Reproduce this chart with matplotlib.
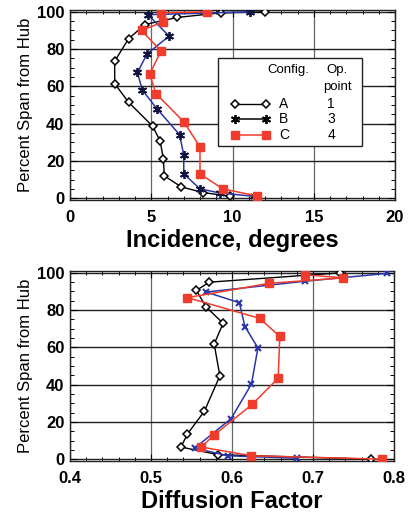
import matplotlib
matplotlib.use("Agg")
import matplotlib.pyplot as plt
from matplotlib.lines import Line2D
from matplotlib.patches import Rectangle
from matplotlib.ticker import MultipleLocator, FuncFormatter

plt.rcParams['font.family'] = ['Liberation Sans', 'DejaVu Sans']

# Incidence (degrees) vs percent span, three configurations
inc_a_x = [12.0, 9.3, 6.6, 4.6, 3.6, 2.75, 2.75, 3.6, 5.1, 5.55, 5.75, 5.8, 6.85, 8.2, 9.85]
inc_a_y = [100, 99.5, 97, 93.2, 85.5, 73.5, 61.5, 51.5, 38.5, 30.5, 21, 12, 6, 3, 1]
inc_b_x = [11.1, 4.8, 6.1, 4.75, 4.15, 4.45, 5.35, 6.75, 7.0, 7.0, 8.0, 9.2, 11.3]
inc_b_y = [100, 98.5, 87, 77.5, 67.5, 58, 48, 34, 23, 13, 5, 2.8, 1]
inc_c_x = [8.4, 5.6, 5.7, 4.4, 5.6, 4.9, 5.3, 7.0, 8.0, 8.0, 9.4, 11.5]
inc_c_y = [100, 99.5, 94.5, 90, 79, 66.5, 56, 41, 27.5, 13, 5, 1.2]

# Diffusion factor vs percent span
df_a_x = [0.733, 0.572, 0.556, 0.568, 0.589, 0.578, 0.585, 0.566, 0.545, 0.537, 0.583, 0.772]
df_a_y = [100, 95, 90.6, 81.7, 72.9, 61.8, 44.7, 25.8, 13.5, 6.5, 2.4, 0]
df_b_x = [0.791, 0.690, 0.568, 0.609, 0.616, 0.632, 0.624, 0.599, 0.554, 0.595, 0.680]
df_b_y = [99.7, 95.5, 89.7, 84.0, 71.2, 59.7, 40.3, 21.8, 5.9, 1.8, 0.5]
df_c_x = [0.690, 0.737, 0.646, 0.545, 0.634, 0.659, 0.657, 0.625, 0.578, 0.562, 0.624, 0.785]
df_c_y = [99, 97.3, 94.4, 86.7, 75.6, 65.9, 43.5, 29.4, 13, 6.5, 1.8, 0]

configs = ['A', 'B', 'C']
op_points = ['1', '3', '4']

RED = '#f03c2c'
BLUE = '#2a36a8'
NAVY = '#101440'

style_a = dict(color='black', lw=1.0, marker='D', ms=4.5, mfc='white', mec='black', mew=1.1)
style_b = dict(color=BLUE, lw=1.1, marker=(6, 2, 0), ms=6.5, mec=NAVY, mew=1.3)
style_c = dict(color=RED, lw=1.1, marker='s', ms=5.5, mfc=RED, mec=RED)

W, H = 412, 514
fig = plt.figure(figsize=(W / 100, H / 100), dpi=100)


def axes_px(left, top, right, bottom):
    return fig.add_axes([left / W, 1 - bottom / H, (right - left) / W, (bottom - top) / H])


def style_axes(ax, xmin, xmax, xmajor, xminor):
    ax.set_xlim(xmin, xmax)
    ax.set_ylim(-1, 101)
    ax.xaxis.set_major_locator(MultipleLocator(xmajor))
    ax.xaxis.set_minor_locator(MultipleLocator(xminor))
    ax.yaxis.set_major_locator(MultipleLocator(20))
    ax.yaxis.set_minor_locator(MultipleLocator(5))
    ax.tick_params(which='both', direction='in', top=True, right=True)
    ax.tick_params(which='major', length=5, width=0.8, labelsize=12)
    ax.tick_params(axis='x', which='major', pad=7)
    ax.tick_params(axis='y', which='major', pad=4)
    ax.tick_params(which='minor', length=3, width=0.7)
    ax.grid(True, axis='y', which='major', color='#222222', lw=1.0)
    ax.grid(True, axis='x', which='major', color='#666666', lw=0.9)
    ax.set_axisbelow(True)
    for s in ax.spines.values():
        s.set_linewidth(1.0)
        s.set_color('#222222')
    ax.set_ylabel('Percent Span from Hub', fontsize=12, labelpad=3)


def bold_ticks(ax):
    for lab in ax.get_xticklabels() + ax.get_yticklabels():
        lab.set_fontweight('bold')


# Top panel: incidence
L, T, R, B = 70, 10, 395, 200
ax1 = axes_px(L, T, R, B)
style_axes(ax1, 0, 20, 5, 1)
ax1.plot(inc_a_x, inc_a_y, **style_a, zorder=3)
ax1.plot(inc_b_x, inc_b_y, **style_b, zorder=4)
ax1.plot(inc_c_x, inc_c_y, **style_c, zorder=5)
bold_ticks(ax1)
ax1.set_xlabel('Incidence, degrees', fontsize=17, fontweight='bold', labelpad=3)


def ax_frac(px, py):
    return (px - L) / (R - L), (B - py) / (B - T)


# Legend box with configuration and operating point columns
x0, y0 = ax_frac(218, 146)
x1, y1 = ax_frac(362, 58)
ax1.add_patch(Rectangle((x0, y0), x1 - x0, y1 - y0, transform=ax1.transAxes,
                        facecolor='white', edgecolor='#222222', lw=1.0, zorder=6))
hx, hy = ax_frac(288, 70)
ax1.text(hx, hy, 'Config.', transform=ax1.transAxes, fontsize=9.5, ha='center', va='center', zorder=7)
ox, oy = ax_frac(337, 70)
ax1.text(ox, oy, 'Op.', transform=ax1.transAxes, fontsize=9.5, ha='center', va='center', zorder=7)
_, py2 = ax_frac(337, 87)
ax1.text(ox, py2, 'point', transform=ax1.transAxes, fontsize=9.5, ha='center', va='center', zorder=7)

legend_styles = [
    dict(style_a),
    dict(style_b, color='black', mec='black'),
    dict(style_c),
]
row_py = [104, 119, 135]
for cfg, op, st, rp in zip(configs, op_points, legend_styles, row_py):
    lx0, ly = ax_frac(235, rp)
    lx1, _ = ax_frac(266, rp)
    ax1.add_line(Line2D([lx0, lx1], [ly, ly], transform=ax1.transAxes, zorder=7, **st))
    tx, _ = ax_frac(284, rp)
    ax1.text(tx, ly, cfg, transform=ax1.transAxes, fontsize=10, ha='center', va='center', zorder=7)
    nx, _ = ax_frac(331, rp)
    ax1.text(nx, ly, op, transform=ax1.transAxes, fontsize=10, ha='center', va='center', zorder=7)

# Bottom panel: diffusion factor
ax2 = axes_px(70, 271, 394, 461)
style_axes(ax2, 0.4, 0.8, 0.1, 0.02)
ax2.plot(df_a_x, df_a_y, **style_a, zorder=3)
ax2.plot(df_b_x, df_b_y, **dict(style_b, marker='x', ms=5, mew=1.5, mec=BLUE), zorder=4)
ax2.plot(df_c_x, df_c_y, **style_c, zorder=5)
ax2.xaxis.set_major_formatter(FuncFormatter(lambda v, p: f'{v:.1f}'))
bold_ticks(ax2)
ax2.set_xlabel('Diffusion Factor', fontsize=17, fontweight='bold', labelpad=3)

fig.savefig('out.png', dpi=100)
